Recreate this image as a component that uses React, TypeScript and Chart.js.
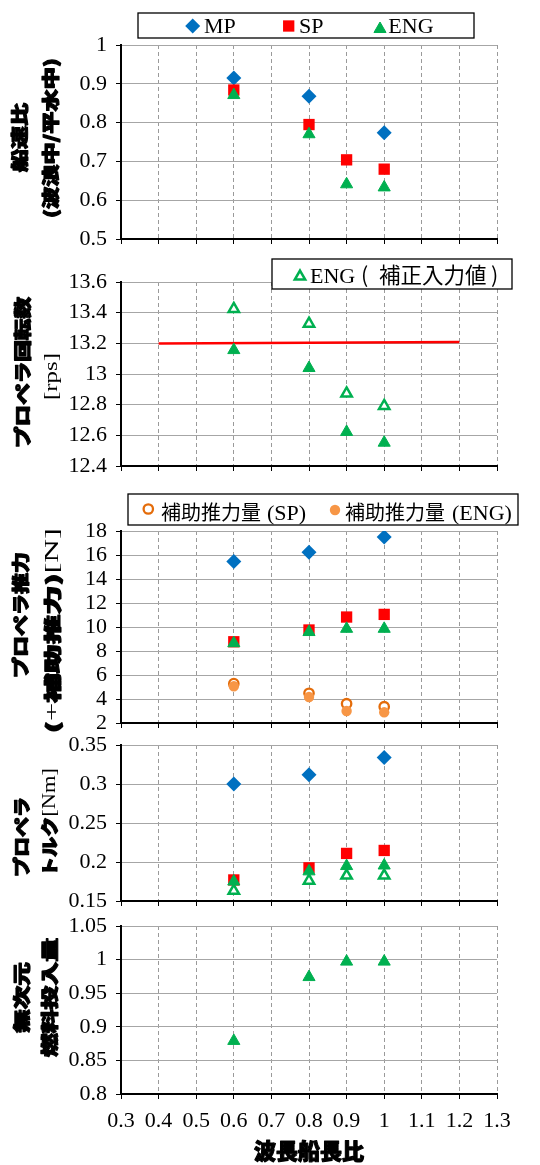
import React, { useEffect, useRef } from 'react';
import { Chart, registerables } from 'chart.js';

Chart.register(...registerables);

// ---------------- data ----------------
const X_MP = [0.6, 0.8, 1.0];
const X_TEST = [0.6, 0.8, 0.9, 1.0];
const X_SET_LINE = [0.4, 1.2];

// 船速比
const SPEED_MP = [0.915, 0.868, 0.774];
const SPEED_SP = [0.884, 0.795, 0.704, 0.68];
const SPEED_ENG = [0.871, 0.77, 0.641, 0.633];

// プロペラ回転数
const RPS_ENG = [13.156, 13.039, 12.622, 12.552];
const RPS_ENG_CORR = [13.424, 13.328, 12.873, 12.792];
const RPS_SET = [13.199, 13.208];

// プロペラ推力
const THRUST_MP = [15.45, 16.22, 17.5];
const THRUST_SP = [8.77, 9.75, 10.83, 11.05];
const THRUST_ENG = [8.65, 9.58, 9.85, 9.85];
const AUX_SP = [5.28, 4.48, 3.61, 3.36];
const AUX_ENG = [5.06, 4.17, 3.0, 2.89];

// プロペラトルク
const TORQUE_MP = [0.3, 0.312, 0.334];
const TORQUE_SP = [0.177, 0.1925, 0.211, 0.2148];
const TORQUE_ENG = [0.175, 0.188, 0.1948, 0.1955];
const TORQUE_ENG_CORR = [0.163, 0.176, 0.1826, 0.1826];

// 無次元燃料投入量
const FUEL_ENG = [0.879, 0.974, 0.997, 0.997];

// ticks
const X_TICKS = [0.3, 0.4, 0.5, 0.6, 0.7, 0.8, 0.9, 1.0, 1.1, 1.2, 1.3];
const X_TICK_LABELS = ['0.3', '0.4', '0.5', '0.6', '0.7', '0.8', '0.9', '1', '1.1', '1.2', '1.3'];
const SPEED_TICKS = [0.5, 0.6, 0.7, 0.8, 0.9, 1.0];
const SPEED_TICK_LABELS = ['0.5', '0.6', '0.7', '0.8', '0.9', '1'];
const RPS_TICKS = [12.4, 12.6, 12.8, 13.0, 13.2, 13.4, 13.6];
const RPS_TICK_LABELS = ['12.4', '12.6', '12.8', '13', '13.2', '13.4', '13.6'];
const THRUST_TICKS = [2, 4, 6, 8, 10, 12, 14, 16, 18];
const THRUST_TICK_LABELS = ['2', '4', '6', '8', '10', '12', '14', '16', '18'];
const TORQUE_TICKS = [0.15, 0.2, 0.25, 0.3, 0.35];
const TORQUE_TICK_LABELS = ['0.15', '0.2', '0.25', '0.3', '0.35'];
const FUEL_TICKS = [0.8, 0.85, 0.9, 0.95, 1.0, 1.05];
const FUEL_TICK_LABELS = ['0.8', '0.85', '0.9', '0.95', '1', '1.05'];

const X_TITLE = '波長船長比';

// ---------------- styles / layout ----------------
const PAGE_W = 540;
const PAGE_H = 1165;
const PLOT_LEFT = 121;
const PLOT_RIGHT = 497;

const SERIF = '"Liberation Serif", "Times New Roman", serif';
const GOTHIC = '"Noto Sans CJK JP", sans-serif';
const T_G = `900 17px ${GOTHIC}`;
const T_S = `400 19px ${SERIF}`;
const L_S = `400 22px ${SERIF}`;
const L_G = `400 20px ${GOTHIC}`;
const L_G2 = `400 21.5px ${GOTHIC}`;

const BLUE = '#0070C0';
const RED = '#FF0000';
const GREEN = '#00B050';
const ORANGE_D = '#E46C0A';
const ORANGE_L = '#F79646';
const GRID_H = '#A6A6A6';
const GRID_V = '#9A9A9A';

const ST_MP = { pointStyle: 'rectRot', pointRadius: 7.5, pointBackgroundColor: BLUE, pointBorderColor: BLUE, pointBorderWidth: 0 };
const ST_SP = { pointStyle: 'rect', pointRadius: 8, pointBackgroundColor: RED, pointBorderColor: RED, pointBorderWidth: 0 };
const ST_ENG = { pointStyle: 'triangle', pointRadius: 7, pointBackgroundColor: GREEN, pointBorderColor: GREEN, pointBorderWidth: 1 };
const ST_ENG_CORR = { pointStyle: 'triangle', pointRadius: 6, pointBackgroundColor: '#FFFFFF', pointBorderColor: GREEN, pointBorderWidth: 2.5 };
const ST_AUX_SP = { pointStyle: 'circle', pointRadius: 4.7, pointBackgroundColor: '#FFFFFF', pointBorderColor: ORANGE_D, pointBorderWidth: 2.3 };
const ST_AUX_ENG = { pointStyle: 'circle', pointRadius: 5.2, pointBackgroundColor: ORANGE_L, pointBorderColor: ORANGE_L, pointBorderWidth: 0 };

const pts = (xs: number[], ys: number[]) => xs.map((x, i) => ({ x, y: ys[i] }));
const series = (label: string, xs: number[], ys: number[], st: any) => ({
  label, data: pts(xs, ys), showLine: false, ...st, pointHoverRadius: st.pointRadius,
});

// ---------------- helpers ----------------
function drawMarker(ctx: CanvasRenderingContext2D, style: string, x: number, y: number, r: number, fill: string, stroke: string, bw: number) {
  ctx.beginPath();
  if (style === 'rectRot') {
    ctx.moveTo(x, y - r); ctx.lineTo(x + r, y); ctx.lineTo(x, y + r); ctx.lineTo(x - r, y); ctx.closePath();
  } else if (style === 'rect') {
    const h = r * Math.SQRT1_2;
    ctx.rect(x - h, y - h, 2 * h, 2 * h);
  } else if (style === 'triangle') {
    const a = (2 * Math.PI) / 3;
    ctx.moveTo(x, y - r);
    ctx.lineTo(x + r * Math.sin(a), y - r * Math.cos(a));
    ctx.lineTo(x - r * Math.sin(a), y - r * Math.cos(a));
    ctx.closePath();
  } else {
    ctx.arc(x, y, r, 0, Math.PI * 2);
  }
  ctx.fillStyle = fill;
  ctx.fill();
  if (bw > 0) { ctx.lineWidth = bw; ctx.strokeStyle = stroke; ctx.stroke(); }
}

// draws heavy text: fill + a thin stroke of the same colour (bold gothic look)
function heavyText(ctx: CanvasRenderingContext2D, text: string, x: number, y: number, heavy: boolean) {
  ctx.fillText(text, x, y);
  if (heavy) { ctx.lineWidth = 1.1; ctx.strokeStyle = '#000'; ctx.lineJoin = 'round'; ctx.strokeText(text, x, y); }
}

function makeTitlePlugin(lines: any[], xTitle: any) {
  return {
    id: 'axisTitles',
    afterDraw(chart: any) {
      const ctx = chart.ctx as CanvasRenderingContext2D;
      for (const line of lines) {
        ctx.save();
        let total = 0;
        const widths = line.segs.map((s: any) => { ctx.font = s.css; const w = ctx.measureText(s.text).width; total += w; return w; });
        const sx = (line.y1 - line.y0) / total;
        ctx.translate(line.cx, line.y1);
        ctx.rotate(-Math.PI / 2);
        ctx.scale(sx, 1);
        ctx.fillStyle = '#000';
        ctx.textAlign = 'left';
        ctx.textBaseline = 'middle';
        let x = 0;
        line.segs.forEach((s: any, i: number) => {
          ctx.font = s.css;
          heavyText(ctx, s.text, x, 0, s.css === T_G);
          x += widths[i];
        });
        ctx.restore();
      }
      if (xTitle) {
        const area = chart.chartArea;
        ctx.save();
        ctx.font = xTitle.css;
        ctx.fillStyle = '#000';
        ctx.textAlign = 'center';
        ctx.textBaseline = 'middle';
        heavyText(ctx, xTitle.text, (area.left + area.right) / 2, xTitle.cy, true);
        ctx.restore();
      }
    },
  };
}

function makeLegendPlugin(lg: any) {
  return {
    id: 'boxLegend',
    afterDraw(chart: any) {
      if (!lg) return;
      const ctx = chart.ctx as CanvasRenderingContext2D;
      const b = lg.box;
      ctx.save();
      ctx.fillStyle = '#FFFFFF';
      ctx.fillRect(b.x0, b.y0, b.x1 - b.x0, b.y1 - b.y0);
      ctx.strokeStyle = '#000';
      ctx.lineWidth = 1.3;
      ctx.strokeRect(b.x0, b.y0, b.x1 - b.x0, b.y1 - b.y0);
      for (const it of lg.items) {
        const ds = chart.data.datasets[it.ds];
        drawMarker(ctx, ds.pointStyle, it.mx, it.my, ds.pointRadius, ds.pointBackgroundColor, ds.pointBorderColor, ds.pointBorderWidth);
        ctx.fillStyle = '#000';
        ctx.textAlign = 'left';
        ctx.textBaseline = 'alphabetic';
        for (const s of it.segs) { ctx.font = s.css; ctx.fillText(s.text, s.x, lg.baseline); }
      }
      ctx.restore();
    },
  };
}

// ---------------- panels ----------------
const PANELS: any[] = [
  {
    top: 45, bottom: 239, yTicks: SPEED_TICKS, yLabels: SPEED_TICK_LABELS,
    datasets: [
      series('MP', X_MP, SPEED_MP, ST_MP),
      series('SP', X_TEST, SPEED_SP, ST_SP),
      series('ENG', X_TEST, SPEED_ENG, ST_ENG),
    ],
    titles: [
      { cx: 20, y0: 103, y1: 172, segs: [{ text: '船速比', css: T_G }] },
      { cx: 51, y0: 58, y1: 218, segs: [{ text: '(波浪中/平水中)', css: T_G }] },
    ],
    legend: {
      box: { x0: 138, y0: 13, x1: 474, y1: 38 }, baseline: 33.3,
      items: [
        { ds: 0, mx: 192.7, my: 26, segs: [{ text: 'MP', x: 204, css: L_S }] },
        { ds: 1, mx: 288.7, my: 26, segs: [{ text: 'SP', x: 299, css: L_S }] },
        { ds: 2, mx: 380, my: 29, segs: [{ text: 'ENG', x: 388.3, css: L_S }] },
      ],
    },
  },
  {
    top: 282, bottom: 466, yTicks: RPS_TICKS, yLabels: RPS_TICK_LABELS,
    datasets: [
      { label: '設定回転数', data: pts(X_SET_LINE, RPS_SET), showLine: true, borderColor: RED, borderWidth: 2.5, pointRadius: 0, pointHoverRadius: 0, fill: false },
      series('ENG', X_TEST, RPS_ENG, ST_ENG),
      series('ENG（補正入力値）', X_TEST, RPS_ENG_CORR, ST_ENG_CORR),
    ],
    titles: [
      { cx: 23, y0: 297, y1: 448, segs: [{ text: 'プロペラ回転数', css: T_G }] },
      { cx: 52, y0: 353, y1: 400, segs: [{ text: '[rps]', css: T_S }] },
    ],
    legend: {
      box: { x0: 272, y0: 259, x1: 512, y1: 289 }, baseline: 283.3,
      items: [
        {
          ds: 2, mx: 300, my: 276.5,
          segs: [
            { text: 'ENG', x: 310, css: L_S },
            { text: '(', x: 361, css: L_G2 },
            { text: '補正入力値', x: 379, css: L_G2 },
            { text: ')', x: 491, css: L_G2 },
          ],
        },
      ],
    },
  },
  {
    top: 531, bottom: 723, yTicks: THRUST_TICKS, yLabels: THRUST_TICK_LABELS,
    datasets: [
      series('MP', X_MP, THRUST_MP, ST_MP),
      series('SP', X_TEST, THRUST_SP, ST_SP),
      series('ENG', X_TEST, THRUST_ENG, ST_ENG),
      series('補助推力量 (SP)', X_TEST, AUX_SP, ST_AUX_SP),
      series('補助推力量 (ENG)', X_TEST, AUX_ENG, ST_AUX_ENG),
    ],
    titles: [
      { cx: 21, y0: 552, y1: 678, segs: [{ text: 'プロペラ推力', css: T_G }] },
      {
        cx: 53, y0: 528, y1: 733,
        segs: [
          { text: '(', css: T_G }, { text: '+', css: T_S }, { text: '補助推力', css: T_G },
          { text: ')', css: T_G }, { text: '[N]', css: T_S },
        ],
      },
    ],
    legend: {
      box: { x0: 128, y0: 494, x1: 518, y1: 525 }, baseline: 519.5,
      items: [
        { ds: 3, mx: 148.3, my: 509, segs: [{ text: '補助推力量', x: 161, css: L_G }, { text: '(SP)', x: 267, css: L_S }] },
        { ds: 4, mx: 335, my: 510, segs: [{ text: '補助推力量', x: 345, css: L_G }, { text: '(ENG)', x: 452, css: L_S }] },
      ],
    },
  },
  {
    top: 745, bottom: 901, yTicks: TORQUE_TICKS, yLabels: TORQUE_TICK_LABELS,
    datasets: [
      series('MP', X_MP, TORQUE_MP, ST_MP),
      series('SP', X_TEST, TORQUE_SP, ST_SP),
      series('ENG', X_TEST, TORQUE_ENG, ST_ENG),
      series('ENG（補正入力値）', X_TEST, TORQUE_ENG_CORR, ST_ENG_CORR),
    ],
    titles: [
      { cx: 22, y0: 797, y1: 877, segs: [{ text: 'プロペラ', css: T_G }] },
      { cx: 50, y0: 768, y1: 877, segs: [{ text: 'トルク', css: T_G }, { text: '[Nm]', css: T_S }] },
    ],
    legend: null,
  },
  {
    top: 926, bottom: 1094, yTicks: FUEL_TICKS, yLabels: FUEL_TICK_LABELS, xLabels: true,
    datasets: [series('ENG', X_TEST, FUEL_ENG, ST_ENG)],
    titles: [
      { cx: 22, y0: 962, y1: 1033, segs: [{ text: '無次元', css: T_G }] },
      { cx: 50, y0: 938, y1: 1057, segs: [{ text: '燃料投入量', css: T_G }] },
    ],
    xTitle: { text: X_TITLE, cy: 1151, css: `900 22px ${GOTHIC}` },
    legend: null,
  },
];

function buildConfig(p: any): any {
  const last = !!p.xLabels;
  const yT: number[] = p.yTicks;
  return {
    type: 'scatter',
    data: { datasets: p.datasets.map((d: any, i: number, arr: any[]) => ({ ...d, order: arr.length - i })) },
    plugins: [makeTitlePlugin(p.titles, p.xTitle), makeLegendPlugin(p.legend)],
    options: {
      responsive: false,
      maintainAspectRatio: false,
      animation: false,
      devicePixelRatio: 1,
      events: [],
      layout: { padding: { top: p.top, left: 0, right: PAGE_W - PLOT_RIGHT, bottom: 0 } },
      plugins: { legend: { display: false }, tooltip: { enabled: false } },
      scales: {
        x: {
          type: 'linear', position: 'bottom',
          min: X_TICKS[0], max: X_TICKS[X_TICKS.length - 1],
          afterBuildTicks: (s: any) => { s.ticks = X_TICKS.map((v) => ({ value: v })); },
          afterFit: (s: any) => { s.height = PAGE_H - p.bottom; s.paddingLeft = 0; s.paddingRight = 0; },
          grid: { color: GRID_V, lineWidth: 1, drawTicks: true, tickLength: 5, tickWidth: 1, tickColor: '#000' },
          border: { display: true, color: '#000', width: 2, dash: [4, 3] },
          ticks: {
            display: last, autoSkip: false, maxRotation: 0, minRotation: 0, padding: 9, color: '#000',
            font: { family: SERIF, size: 22 },
            callback: (_v: any, i: number) => X_TICK_LABELS[i],
          },
          title: { display: false },
        },
        y: {
          type: 'linear', position: 'left',
          min: yT[0], max: yT[yT.length - 1],
          afterBuildTicks: (s: any) => { s.ticks = yT.map((v) => ({ value: v })); },
          afterFit: (s: any) => { s.width = PLOT_LEFT; s.paddingTop = 0; s.paddingBottom = 0; },
          grid: { color: GRID_H, lineWidth: 1, drawTicks: true, tickLength: 5, tickWidth: 1, tickColor: '#000' },
          border: { display: true, color: '#000', width: 2 },
          ticks: {
            padding: 9, color: '#000', autoSkip: false,
            font: { family: SERIF, size: 22 },
            callback: (_v: any, i: number) => p.yLabels[i],
          },
        },
      },
    },
  };
}

export default function App() {
  const refs = useRef<(HTMLCanvasElement | null)[]>([]);
  useEffect(() => {
    const charts = PANELS.map((p, i) => new Chart(refs.current[i] as HTMLCanvasElement, buildConfig(p)));
    return () => { charts.forEach((c) => c.destroy()); };
  }, []);
  return (
    <div style={{ position: 'absolute', left: 0, top: 0, width: PAGE_W, height: PAGE_H, background: '#fff' }}>
      {PANELS.map((_p, i) => (
        <canvas
          key={i}
          ref={(el) => { refs.current[i] = el; }}
          width={PAGE_W}
          height={PAGE_H}
          style={{ position: 'absolute', left: 0, top: 0, width: PAGE_W, height: PAGE_H }}
        />
      ))}
    </div>
  );
}
